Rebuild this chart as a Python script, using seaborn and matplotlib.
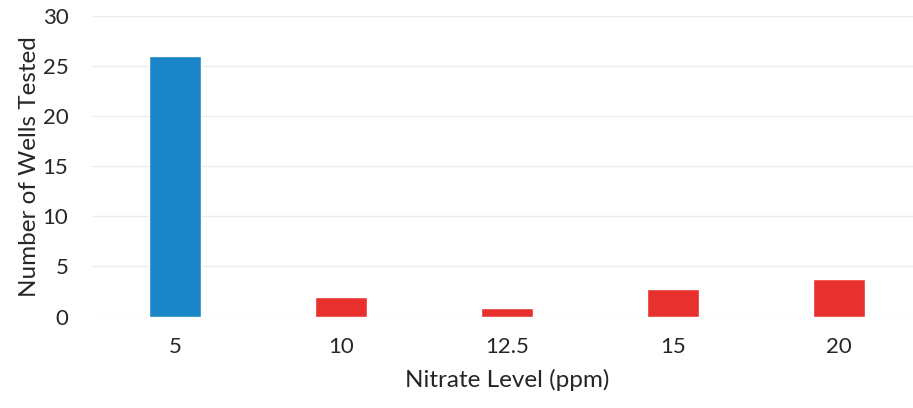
import pandas as pd
import seaborn as sns
import matplotlib.pyplot as plt

levels = ["5", "10", "12.5", "15", "20"]
wells = [26, 2, 0.9, 2.8, 3.8]
bar_colors = ["#1a86c8", "#e8312f", "#e8312f", "#e8312f", "#e8312f"]

df = pd.DataFrame({"level": levels, "wells": wells})

sns.set_style("white")
plt.rcParams["font.family"] = ["Lato", "DejaVu Sans"]

fig = plt.figure(figsize=(9.13, 4.08), dpi=100)
# plot area runs slightly past the right edge, as in the cropped original
ax = fig.add_axes([92 / 913, 0.224, 830 / 913, 0.737])

sns.barplot(data=df, x="level", y="wells", hue="level", order=levels,
            palette=dict(zip(levels, bar_colors)), legend=False,
            width=0.31, saturation=1, ax=ax, zorder=3)

ax.set_ylim(0, 30)
ax.set_yticks(range(0, 31, 5))
ax.grid(axis="y", color="#ececec", linewidth=1, zorder=0)
for s in ax.spines.values():
    s.set_visible(False)
ax.tick_params(axis="both", length=0, labelsize=16, colors="#262626")
ax.tick_params(axis="x", pad=15)
ax.tick_params(axis="y", pad=17)

ax.set_xlabel("Nitrate Level (ppm)", fontsize=17.5, color="#262626", labelpad=8)
ax.set_ylabel("Number of Wells Tested", fontsize=17.5, color="#262626", labelpad=2)

fig.savefig("out.png", dpi=100)
